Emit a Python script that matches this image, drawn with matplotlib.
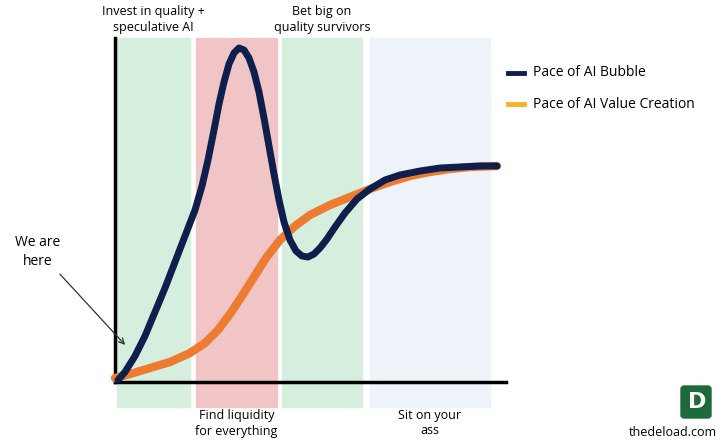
import matplotlib
matplotlib.use("Agg")
import matplotlib.pyplot as plt
from matplotlib.patches import Rectangle, FancyBboxPatch

bubble_x = [118,125,135,145,155,165,175,185,195,202,208,214,219,224,229,234,239,244,249,254,259,264,269,274,279,284,290,296,302,308,314,320,327,335,345,357,370,385,400,420,440,460,480,497]
bubble_y = [380,372,356,336,312,288,262,236,210,186,160,130,104,82,64,53,48,50,58,72,92,118,146,174,200,222,240,251,256,257,254,248,239,227,213,199,189,180,175,171,168,167,166,166]
value_x = [115,130,150,170,190,205,218,230,242,254,266,280,295,310,330,350,370,390,410,430,450,470,497]
value_y = [378,374,368,362,353,343,330,314,296,277,258,240,226,215,205,197,189,182,176,172,169,167,166]
band_x = [117,196,282,370]
band_w = [73,81,80,120]
band_c = ["#d6eedd","#f1c5c5","#d6eedd","#eef3fa"]
top_labels = ["Invest in quality +\nspeculative AI","","Bet big on\nquality survivors",""]
bottom_labels = ["","Find liquidity\nfor everything","","Sit on your\nass"]
legend_labels = ["Pace of AI Bubble","Pace of AI Value Creation"]

W,H = 721,448
fig = plt.figure(figsize=(W/100,H/100),dpi=100)
ax = fig.add_axes([0,0,1,1])
ax.set_xlim(0,W); ax.set_ylim(H,0); ax.axis("off")
for x,w,c,t,b in zip(band_x,band_w,band_c,top_labels,bottom_labels):
    ax.add_patch(Rectangle((x,38),w,369,color=c,zorder=0))
    if t: ax.text(x+w/2,20,t,ha="center",va="center",fontsize=9,family="Open Sans",linespacing=1.3)
    if b: ax.text(x+w/2,423,b,ha="center",va="center",fontsize=9,family="Open Sans",linespacing=1.3)
ax.plot([115,115],[38,382],color="black",lw=2.5,zorder=2)
ax.plot([115,506],[382,382],color="black",lw=2.5,zorder=2)
ax.plot(value_x,value_y,color="#ee7b32",lw=6,solid_capstyle="round",solid_joinstyle="round",zorder=3)
ax.plot(bubble_x,bubble_y,color="#0e1f4d",lw=5,solid_capstyle="round",solid_joinstyle="round",zorder=4)
for i,(lab,c) in enumerate(zip(legend_labels,["#0e1f4d","#f5b324"])):
    y = 73+31*i
    ax.plot([508,524],[y,y],color=c,lw=3.5)
    ax.text(533,y,lab,va="center",fontsize=10,family="Open Sans")
ax.text(38,252,"We are\nhere",ha="center",va="center",fontsize=10,family="Open Sans",linespacing=1.4)
ax.annotate("",xy=(127,347),xytext=(58,272),arrowprops=dict(arrowstyle="->",color="#333333",lw=0.9))
ax.add_patch(FancyBboxPatch((681,386),30,32,boxstyle="round,pad=0,rounding_size=3",color="#1d6b3a"))
ax.text(697,402,"D",ha="center",va="center",fontsize=16,fontweight="bold",color="white")
ax.text(673,432,"thedeload.com",ha="center",va="center",fontsize=9,family="Open Sans")
fig.savefig("out.png",dpi=100)
